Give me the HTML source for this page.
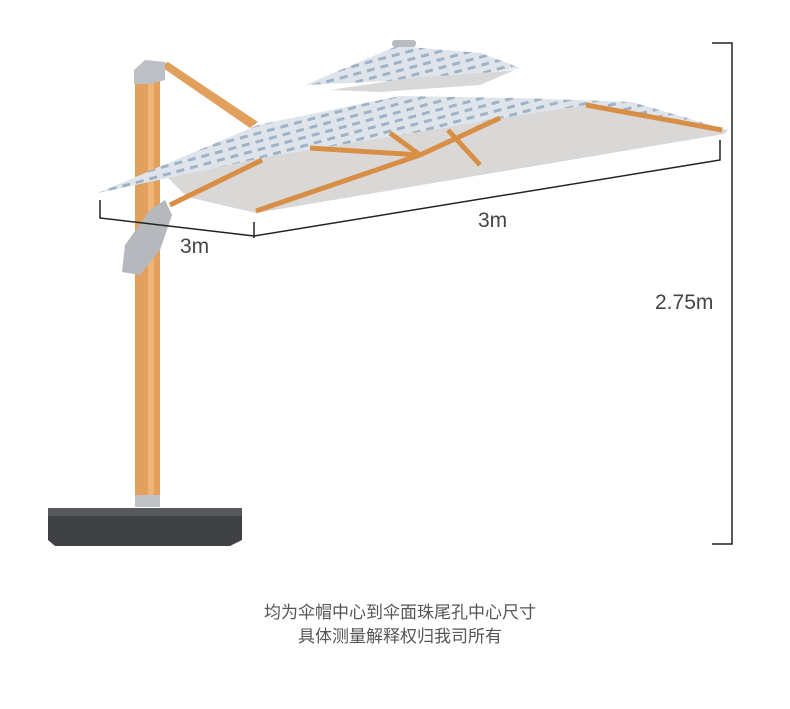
<!DOCTYPE html>
<html><head><meta charset="utf-8"><style>
body{margin:0;background:#fff;width:790px;height:709px;overflow:hidden}
.t{position:absolute;font-family:"Liberation Sans","Noto Sans CJK SC",sans-serif;color:#444}
</style></head><body>
<svg width="790" height="709" style="position:absolute;left:0;top:0">
<defs>
<pattern id="p" width="14" height="8" patternUnits="userSpaceOnUse" patternTransform="rotate(-15)">
<rect width="14" height="8" fill="#dfe4ea"/><rect x="0" y="2" width="8" height="3" fill="#9fb3c8"/></pattern>
</defs>
<rect x="135" y="70" width="25" height="432" fill="#e2a05e"/>
<rect x="148" y="70" width="6" height="432" fill="#eeb576"/>
<polygon points="160,66 168,62 258,122 250,128" fill="#e2a05e"/>
<polygon points="134,70 145,60 165,62 165,80 150,84 134,84" fill="#bcbfc3"/>
<polygon points="305,85 397,46 481,53 520,68 470,75 410,80" fill="url(#p)"/>
<polygon points="330,90 410,78 470,74 515,70 480,85 380,92" fill="#d8d8d8"/>
<rect x="392" y="40" width="24" height="7" rx="3" fill="#b8bcc0"/>
<polygon points="157,167 586,105 728,130 724,134 256,213 187,197" fill="#d9d8d6"/>
<polygon points="98,193 258,125 400,96 520,98 632,102 728,130 586,105 510,117 266,157" fill="url(#p)"/>
<g stroke="#d88e45" stroke-width="5" fill="none">
<line x1="420" y1="155" x2="256" y2="211"/>
<line x1="420" y1="155" x2="310" y2="148"/>
<line x1="420" y1="155" x2="500" y2="118"/>
<line x1="420" y1="155" x2="390" y2="133"/>
<line x1="448" y1="130" x2="480" y2="165"/>
<line x1="586" y1="105" x2="722" y2="130"/>
<line x1="262" y1="160" x2="170" y2="205"/>
</g>
<polygon points="150,210 165,200 172,215 160,250 140,275 122,272 125,245" fill="#b5b8bc"/>
<rect x="135" y="495" width="25" height="12" fill="#c0c3c6"/>
<polygon points="55,510 235,508 242,515 242,540 230,546 55,546 48,540 48,515" fill="#3f4145"/>
<rect x="48" y="508" width="194" height="8" fill="#56585c"/>
<g stroke="#222" stroke-width="1.5" fill="none">
<polyline points="712,43 732,43 732,544 712,544"/>
<polyline points="100,200 100,218 254,236 720,160 720,140"/>
<line x1="254" y1="222" x2="254" y2="238"/>
</g>
</svg>
<div class="t" style="left:180px;top:235px;font-size:21px">3m</div>
<div class="t" style="left:478px;top:209px;font-size:21px">3m</div>
<div class="t" style="left:655px;top:291px;font-size:21px">2.75m</div>
<div class="t" style="left:0;width:800px;text-align:center;top:601px;font-size:17px;line-height:24px;color:#555">均为伞帽中心到伞面珠尾孔中心尺寸<br>具体测量解释权归我司所有</div>
</body></html>
